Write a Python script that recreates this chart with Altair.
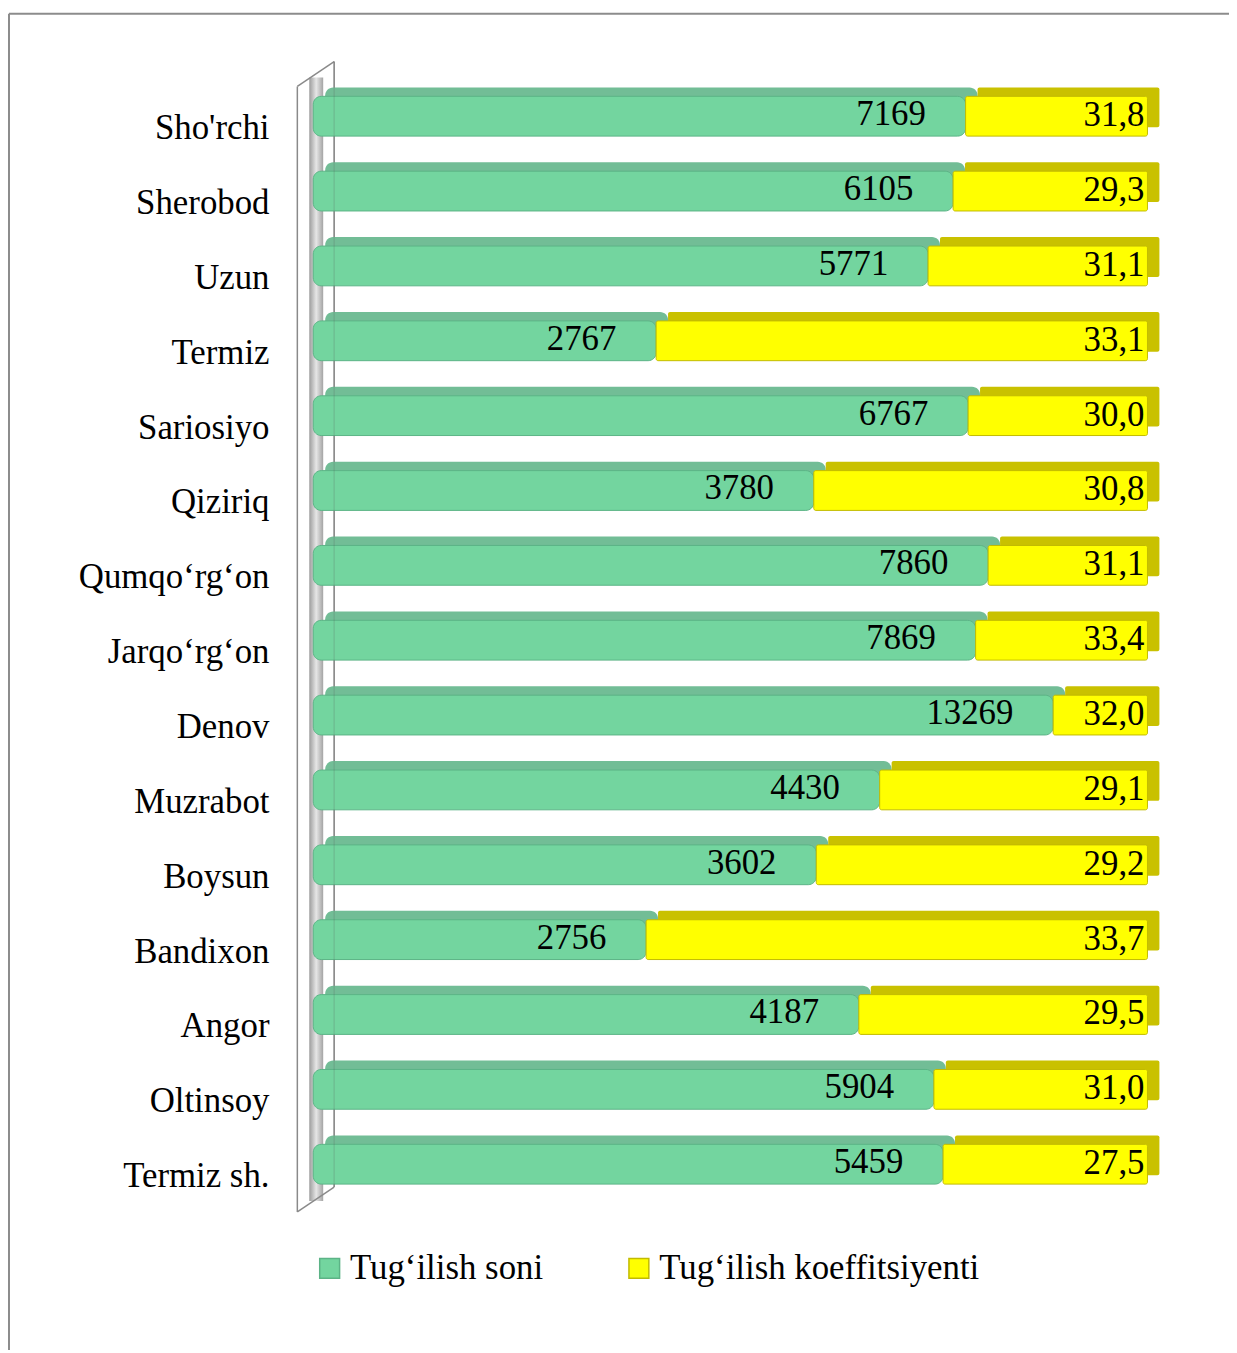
import altair as alt
import pandas as pd

# ---- data ----
categories = ["Sho'rchi", "Sherobod", "Uzun", "Termiz", "Sariosiyo", "Qiziriq",
              "Qumqo‘rg‘on", "Jarqo‘rg‘on", "Denov", "Muzrabot", "Boysun",
              "Bandixon", "Angor", "Oltinsoy", "Termiz sh."]
births = [7169, 6105, 5771, 2767, 6767, 3780, 7860, 7869, 13269, 4430, 3602,
          2756, 4187, 5904, 5459]
coefficients = [31.8, 29.3, 31.1, 33.1, 30.0, 30.8, 31.1, 33.4, 32.0, 29.1,
                29.2, 33.7, 29.5, 31.0, 27.5]
# share of the full (100 %) bar taken by the green segment, as drawn
green_share = [0.782, 0.767, 0.737, 0.411, 0.785, 0.600, 0.809, 0.794, 0.887,
               0.679, 0.603, 0.399, 0.654, 0.744, 0.755]
series = ["Tug‘ilish soni", "Tug‘ilish koeffitsiyenti"]

GREEN, GREEN_TOP, GREEN_EDGE = "#73d59f", "#72bd96", "#5cb386"
YELLOW, YELLOW_TOP, YELLOW_EDGE = "#ffff00", "#c9c100", "#c2ba00"
FONT = "Liberation Serif"
FS = 35

rows = []
for c, b, k, s in zip(categories, births, coefficients, green_share):
    rows.append({"cat": c, "series": series[0], "x0": 0.0, "x1": s,
                 "label": str(b)})
    rows.append({"cat": c, "series": series[1], "x0": s, "x1": 1.0,
                 "label": f"{k:.1f}".replace(".", ",")})
df = pd.DataFrame(rows)
one = pd.DataFrame({"a": [0]})

xs = alt.Scale(domain=[0, 1], range=[306, 1145])
ys = alt.Scale(type="point", domain=categories, range=[103, 1157], padding=0)

X0 = alt.X("x0:Q", scale=xs, axis=None)
X1 = alt.X2("x1:Q")
Y = alt.Y("cat:N", scale=ys, axis=None, sort=categories)

# frame
border_top = alt.Chart(one).mark_rule(color="#8c8c8c", strokeWidth=2).encode(
    x=alt.value(0), x2=alt.value(1240), y=alt.value(0), y2=alt.value(0))
border_left = alt.Chart(one).mark_rule(color="#8c8c8c", strokeWidth=2).encode(
    x=alt.value(0), x2=alt.value(0), y=alt.value(0), y2=alt.value(1350))

# side wall
stripe = alt.Chart(one).mark_rect(
    fill=alt.LinearGradient(gradient="linear", x1=0, y1=0, x2=1, y2=0, stops=[
        alt.GradientStop(offset=0, color="#9c9c9c"),
        alt.GradientStop(offset=0.5, color="#e6e6e6"),
        alt.GradientStop(offset=1, color="#a4a4a4")])
).encode(x=alt.value(302), x2=alt.value(316), y=alt.value(64), y2=alt.value(1194))
wall_lines = [
    alt.Chart(one).mark_rule(color="#8a8a8a", strokeWidth=1.5).encode(
        x=alt.value(a), y=alt.value(b), x2=alt.value(c), y2=alt.value(d))
    for a, b, c, d in [(290, 73, 290, 1205), (327, 48, 327, 1180),
                       (290, 73, 327, 48), (290, 1205, 327, 1180)]
]

green = alt.datum.series == series[0]
yellow = alt.datum.series == series[1]

back_green = alt.Chart(df).transform_filter(green).mark_bar(
    height=40, xOffset=12, x2Offset=12, yOffset=-9, cornerRadius=8,
    color=GREEN_TOP
).encode(x=X0, x2=X1, y=Y)
back_yellow = alt.Chart(df).transform_filter(yellow).mark_bar(
    height=40, xOffset=12, x2Offset=12, yOffset=-9, cornerRadius=2,
    color=YELLOW_TOP
).encode(x=X0, x2=X1, y=Y)

legend = alt.Legend(title=None, orient="none", legendX=305, legendY=1244,
                    direction="horizontal", symbolType="square",
                    symbolSize=400, symbolStrokeWidth=1.5,
                    labelFont=FONT, labelFontSize=FS, labelColor="black",
                    labelOffset=3, columnPadding=78, padding=0,
                    labelLimit=500)
col = alt.Color("series:N", scale=alt.Scale(domain=series, range=[GREEN, YELLOW]),
                legend=legend)
stroke = alt.Stroke("series:N",
                    scale=alt.Scale(domain=series, range=[GREEN_EDGE, YELLOW_EDGE]),
                    legend=legend)

front_green = alt.Chart(df).transform_filter(green).mark_bar(
    height=40, cornerRadius=8, strokeWidth=1
).encode(x=X0, x2=X1, y=Y, color=col, stroke=stroke)
front_yellow = alt.Chart(df).transform_filter(yellow).mark_bar(
    height=40, cornerRadius=2, strokeWidth=1
).encode(x=X0, x2=X1, y=Y, color=col, stroke=stroke)

lab_green = alt.Chart(df).transform_filter(green).mark_text(
    font=FONT, fontSize=FS, color="black", align="right", baseline="alphabetic",
    dx=-40, dy=9
).encode(x=alt.X("x1:Q", scale=xs, axis=None), y=Y, text="label:N")
lab_yellow = alt.Chart(df).transform_filter(yellow).mark_text(
    font=FONT, fontSize=FS, color="black", align="right", baseline="alphabetic",
    dx=-3, dy=10
).encode(x=alt.X("x1:Q", scale=xs, axis=None), y=Y, text="label:N")

cat_labels = alt.Chart(pd.DataFrame({"cat": categories})).mark_text(
    font=FONT, fontSize=FS, color="black", align="right", baseline="alphabetic",
    dy=23
).encode(x=alt.value(262), y=Y, text="cat:N")

wall_overlay = alt.Chart(one).mark_rule(color="#555555", strokeWidth=1,
                                        opacity=0.25).encode(
    x=alt.value(327), x2=alt.value(327), y=alt.value(48), y2=alt.value(1180))

chart = alt.layer(
    border_top, border_left, stripe, *wall_lines,
    back_green, back_yellow, front_green, front_yellow,
    lab_green, lab_yellow, cat_labels, wall_overlay
).properties(
    width=1227, height=1340,
    autosize=alt.AutoSizeParams(type="none"),
    padding={"left": 1, "top": 2, "right": 0, "bottom": 0},
    background="white"
).configure_view(strokeWidth=0)

chart.save("out.html", embed_options={"renderer": "svg", "actions": False})
